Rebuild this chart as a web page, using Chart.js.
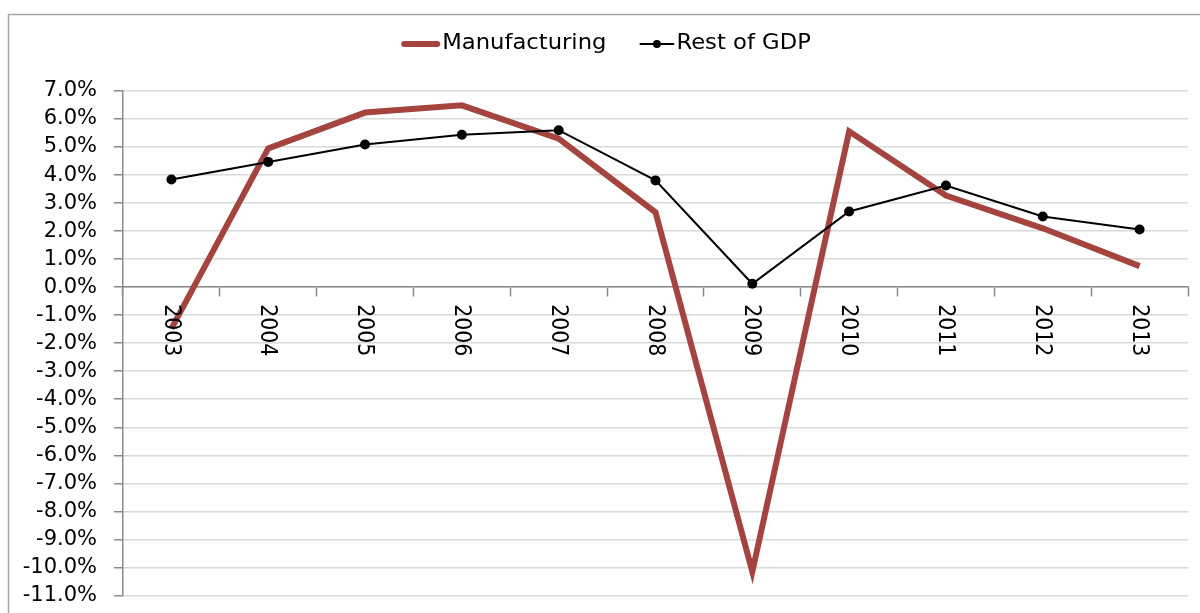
<!DOCTYPE html>
<html>
<head>
<meta charset="utf-8">
<script src="https://cdn.jsdelivr.net/npm/chart.js@4/dist/chart.umd.min.js"></script>
<style>
  html, body { margin: 0; padding: 0; background: #fff; overflow: hidden; }
</style>
</head>
<body>
<canvas id="chart" width="1200" height="625"></canvas>
<script>
const years = ['2003', '2004', '2005', '2006', '2007', '2008', '2009', '2010', '2011', '2012', '2013'];
const manufacturing = [-1.48, 4.95, 6.23, 6.49, 5.30, 2.67, -10.15, 5.56, 3.27, 2.10, 0.75];
const restOfGdp = [3.84, 4.47, 5.09, 5.44, 5.60, 3.81, 0.12, 2.70, 3.63, 2.52, 2.06];
const yMin = -11;
const yMax = 7;
const yStep = 1;

const FONT = '"DejaVu Sans", Verdana, sans-serif';
const RED = '#a5443f';

// frame + legend + rotated year labels, drawn the way Excel does it
const excelBits = {
  id: 'excelBits',
  beforeDraw(chart) {
    const ctx = chart.ctx;
    ctx.save();
    ctx.strokeStyle = '#a6a6a6';
    ctx.lineWidth = 1.5;
    ctx.strokeRect(8.5, 14.5, 1400, 800);
    ctx.restore();
  },
  afterDraw(chart) {
    const ctx = chart.ctx;
    const x = chart.scales.x;
    const y = chart.scales.y;
    const zero = y.getPixelForValue(0);

    ctx.save();
    ctx.fillStyle = '#000';
    ctx.font = '20.5px ' + FONT;
    ctx.textAlign = 'left';
    ctx.textBaseline = 'middle';
    years.forEach((yr, i) => {
      ctx.save();
      ctx.translate(x.getPixelForValue(i) - 1, zero + 17);
      ctx.scale(1.1, 1);
      ctx.rotate(Math.PI / 2);
      ctx.fillText(yr, 0, 0);
      ctx.restore();
    });

    // legend
    ctx.font = '21px ' + FONT;
    const stretch = 1.08;
    const items = [
      {label: 'Manufacturing', kind: 'thick', sw: 39},
      {label: 'Rest of GDP', kind: 'dot', sw: 35}
    ];
    const gap = 2, itemGap = 33;
    let total = 0;
    items.forEach((it, i) => {
      it.w = it.sw + gap + ctx.measureText(it.label).width * stretch;
      total += it.w + (i ? itemGap : 0);
    });
    let lx = chart.width / 2 - total / 2 + 6;
    const ly = 44;
    items.forEach(it => {
      ctx.lineCap = 'round';
      if (it.kind === 'thick') {
        ctx.strokeStyle = RED;
        ctx.lineWidth = 6;
        ctx.beginPath();
        ctx.moveTo(lx + 3, ly);
        ctx.lineTo(lx + it.sw - 3, ly);
        ctx.stroke();
      } else {
        ctx.strokeStyle = '#000';
        ctx.lineWidth = 2;
        ctx.beginPath();
        ctx.moveTo(lx + 1, ly);
        ctx.lineTo(lx + it.sw - 1, ly);
        ctx.stroke();
        ctx.fillStyle = '#000';
        ctx.beginPath();
        ctx.arc(lx + it.sw / 2, ly, 4, 0, Math.PI * 2);
        ctx.fill();
      }
      ctx.fillStyle = '#000';
      ctx.save();
      ctx.translate(lx + it.sw + gap, ly);
      ctx.scale(stretch, 1);
      ctx.fillText(it.label, 0, 0);
      ctx.restore();
      lx += it.w + itemGap;
    });
    ctx.restore();
  }
};

const chart = new Chart(document.getElementById('chart'), {
  type: 'line',
  data: {
    labels: years,
    datasets: [{
      label: 'Manufacturing',
      data: manufacturing,
      borderColor: RED,
      backgroundColor: RED,
      borderWidth: 6,
      pointRadius: 0,
      tension: 0,
      order: 2
    }, {
      label: 'Rest of GDP',
      data: restOfGdp,
      borderColor: '#000',
      backgroundColor: '#000',
      borderWidth: 2,
      pointRadius: 5,
      pointBackgroundColor: '#000',
      pointBorderWidth: 0,
      tension: 0,
      order: 1
    }]
  },
  options: {
    responsive: false,
    maintainAspectRatio: false,
    animation: false,
    layout: {padding: {top: 91, right: 12, bottom: 5, left: 0}},
    plugins: {
      legend: {display: false},
      tooltip: {enabled: false}
    },
    scales: {
      x: {
        position: {y: 0},
        offset: true,
        afterFit(scale) { scale.height = 0; },
        grid: {
          offset: true,
          drawOnChartArea: false,
          drawTicks: true,
          tickLength: 9,
          tickColor: '#898989',
          tickWidth: 1.5
        },
        border: {color: '#898989', width: 1.5},
        ticks: {display: false}
      },
      y: {
        min: yMin,
        max: yMax,
        afterFit(scale) { scale.width = 123; },
        ticks: {
          stepSize: yStep,
          autoSkip: false,
          padding: 17,
          color: '#000',
          font: {family: FONT, size: 21},
          callback: v => v.toFixed(1) + '%'
        },
        grid: {
          color: '#d9d9d9',
          lineWidth: 1.5,
          tickLength: 9,
          tickColor: '#898989'
        },
        border: {color: '#898989', width: 1.5}
      }
    }
  },
  plugins: [excelBits]
});

// the plot in the original runs past the bottom edge of the picture;
// the canvas is taller than the window and cropped, nudge if still off
const off = 595 - chart.chartArea.bottom;
if (Math.abs(off) > 1) chart.resize(1200, Math.round(chart.height + off));
</script>
</body>
</html>
